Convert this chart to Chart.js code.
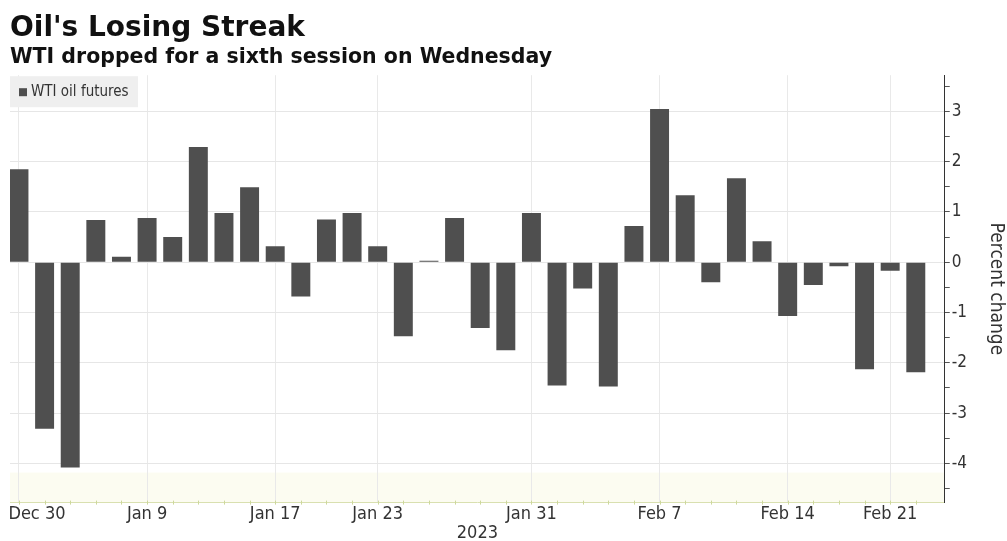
<!DOCTYPE html>
<html><head><meta charset="utf-8">
<script src="https://cdn.jsdelivr.net/npm/chart.js@4.4.1/dist/chart.umd.min.js"></script>
<style>html,body{margin:0;padding:0;background:#fff;}#wrap{width:1007px;height:541px;}</style>
</head><body><div id="wrap"><canvas id="c" width="1007" height="541"></canvas></div>
<script>
const categories = ["Dec 30","Jan 3","Jan 4","Jan 5","Jan 6","Jan 9","Jan 10","Jan 11","Jan 12","Jan 13","Jan 17","Jan 18","Jan 19","Jan 20","Jan 23","Jan 24","Jan 25","Jan 26","Jan 27","Jan 30","Jan 31","Feb 1","Feb 2","Feb 3","Feb 6","Feb 7","Feb 8","Feb 9","Feb 10","Feb 13","Feb 14","Feb 15","Feb 16","Feb 17","Feb 21","Feb 22"];
const wtiChange = [1.85,-3.31,-4.08,0.84,0.11,0.88,0.50,2.29,0.98,1.49,0.32,-0.68,0.85,0.98,0.32,-1.47,0.03,0.88,-1.31,-1.75,0.98,-2.45,-0.52,-2.47,0.72,3.05,1.33,-0.40,1.67,0.42,-1.07,-0.45,-0.08,-2.13,-0.17,-2.19];
const xTickLabels = ["Dec 30","Jan 9","Jan 17","Jan 23","Jan 31","Feb 7","Feb 14","Feb 21"];
const yMinorTicks = [-4.5,-4,-3.5,-3,-2.5,-2,-1.5,-1,-0.5,0,0.5,1,1.5,2,2.5,3,3.5];
const seriesLabel = "WTI oil futures";

const condFamily = "'DejaVu Sans Condensed','DejaVu Sans'";
const tickFont = {family:condFamily, size:18, lineHeight:1.0};

const decorations = {
  id:'decorations',
  beforeDraw(chart){
    const {ctx, chartArea:a} = chart;
    ctx.save();
    ctx.fillStyle = '#fcfcf1';
    ctx.fillRect(a.left, a.bottom-30, a.right-a.left, 30);
    ctx.restore();
  },
  afterDraw(chart){
    const {ctx, chartArea:a, scales} = chart;
    ctx.save();
    ctx.strokeStyle = '#cdd89c';
    ctx.lineWidth = 1;
    categories.forEach((c,i)=>{
      const x = Math.round(scales.x.getPixelForValue(i))+0.5;
      ctx.beginPath(); ctx.moveTo(x, a.bottom-2); ctx.lineTo(x, a.bottom+2); ctx.stroke();
    });
    const lx = a.left, ly = a.top+1;
    ctx.fillStyle = '#efefef';
    ctx.fillRect(lx, ly, 128, 31);
    ctx.fillStyle = '#4f4f4f';
    ctx.fillRect(lx+9, ly+12, 8, 8);
    ctx.fillStyle = '#333';
    ctx.font = "15px " + condFamily;
    ctx.textBaseline = 'middle';
    ctx.fillText(chart.data.datasets[0].label, lx+21, ly+16);
    ctx.restore();
  }
};

new Chart(document.getElementById('c'), {
  type:'bar',
  data:{datasets:[{
    label: seriesLabel,
    data: wtiChange.map((v,i)=>({x:i, y:v})),
    backgroundColor:'#4f4f4f', borderWidth:0,
    barPercentage:1, categoryPercentage:0.74
  }]},
  options:{
    responsive:false, animation:false,
    layout:{padding:{left:10, right:2, top:0, bottom:0}},
    plugins:{
      legend:{display:false}, tooltip:{enabled:false},
      title:{display:true, text:"Oil's Losing Streak", align:'start', color:'#111',
        font:{family:'DejaVu Sans', size:28, weight:'bold', lineHeight:1.2}, padding:{top:12, bottom:0}},
      subtitle:{display:true, text:'WTI dropped for a sixth session on Wednesday', align:'start', color:'#111',
        font:{family:'DejaVu Sans', size:20.5, weight:'bold', lineHeight:1.2}, padding:{top:0, bottom:5}}
    },
    scales:{
      x:{type:'linear', min:-0.35, max:36.13, offset:false,
        afterBuildTicks:s=>{ s.ticks = xTickLabels.map(l=>({value:categories.indexOf(l)})); },
        afterFit:s=>{ s.paddingLeft = 0; s.paddingRight = 0; },
        ticks:{autoSkip:false, maxRotation:0, color:'#333', font:tickFont, padding:3,
          callback:(v,i)=> i===0 ? '       ' + categories[v] : categories[v]},
        grid:{color:'#e9e9e9', drawTicks:false, offset:false},
        border:{color:'#d9e0b0'},
        title:{display:true, text:'2023', color:'#333', font:{family:condFamily, size:18, lineHeight:0.8}, padding:{top:0, bottom:0}}
      },
      y:{position:'right', min:-4.78, max:3.72,
        afterBuildTicks:s=>{ s.ticks = yMinorTicks.map(v=>({value:v})); },
        ticks:{color:'#333', font:{family:condFamily, size:17}, padding:2,
          callback:v=>Number.isInteger(v)? String(v) : ''},
        grid:{color:c=> (c.tick && Number.isInteger(c.tick.value)) ? '#e6e6e6' : 'rgba(0,0,0,0)',
          tickColor:'#555', tickLength:5},
        border:{color:'#333'},
        title:{display:true, text:'Percent change', color:'#333',
          font:{family:condFamily, size:19, lineHeight:1.0}, padding:{top:0, bottom:17}}
      }
    }
  },
  plugins:[decorations]
});
</script></body></html>
